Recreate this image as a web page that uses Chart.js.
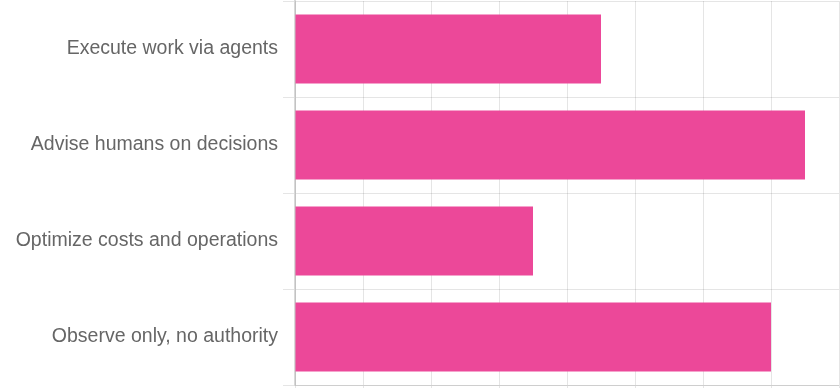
<!DOCTYPE html>
<html>
<head>
<meta charset="utf-8">
<style>
  html, body { margin: 0; padding: 0; background: #fff; overflow: hidden; }
  #wrap { width: 840px; height: 388px; position: relative; }
</style>
<script src="https://cdn.jsdelivr.net/npm/chart.js@4/dist/chart.umd.min.js"></script>
</head>
<body>
<div id="wrap"><canvas id="c"></canvas></div>
<script>
const categories = [
  "Execute work via agents",
  "Advise humans on decisions",
  "Optimize costs and operations",
  "Observe only, no authority"
];
const values = [45, 75, 35, 70];
const xMax = 80;
const xStep = 10;

new Chart(document.getElementById('c'), {
  type: 'bar',
  data: {
    labels: categories,
    datasets: [{
      data: values,
      backgroundColor: '#EC4899',
      borderWidth: 0
    }]
  },
  options: {
    indexAxis: 'y',
    responsive: true,
    maintainAspectRatio: false,
    animation: false,
    layout: { padding: { top: 1, right: 1, left: 0, bottom: 0 } },
    plugins: { legend: { display: false }, tooltip: { enabled: false } },
    scales: {
      x: {
        min: 0,
        max: xMax,
        ticks: { display: false, stepSize: xStep },
        grid: { color: 'rgba(0,0,0,0.1)', tickLength: 3 },
        border: { color: 'rgba(0,0,0,0.1)' },
        afterFit: (scale) => { scale.height = 3; scale.paddingLeft = 0; scale.paddingRight = 0; }
      },
      y: {
        ticks: {
          color: '#666',
          padding: 5,
          font: { family: 'Liberation Sans, Arial, Helvetica, sans-serif', size: 19.5 }
        },
        grid: { color: 'rgba(0,0,0,0.1)', tickLength: 12 },
        border: { color: 'rgba(0,0,0,0.15)', width: 2 },
        afterFit: (scale) => { scale.width = 295; scale.paddingTop = 0; scale.paddingBottom = 0; }
      }
    }
  }
});
</script>
</body>
</html>
